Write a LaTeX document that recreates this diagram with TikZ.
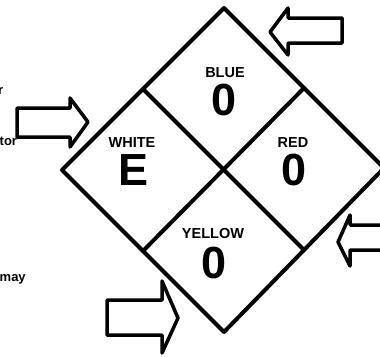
\documentclass[tikz,border=0pt]{standalone}
\usepackage{fontspec}
\setmainfont{Liberation Sans}
\begin{document}
\begin{tikzpicture}[x=1pt,y=-1pt,
  edge/.style={line width=4pt,line join=round,line cap=round},
  blockarrow/.style={draw,line width=3.5pt,line join=round,fill=white},
  small/.style={font=\fontsize{14.5}{14.5}\selectfont\bfseries,inner sep=0pt,anchor=base},
  big/.style={font=\fontsize{45}{45}\selectfont\bfseries,inner sep=0pt,anchor=base},
  side/.style={font=\fontsize{13}{13}\selectfont\bfseries,inner sep=0pt}]
\useasboundingbox (0,0) rectangle (380,356);
\clip (0,0) rectangle (380,356);
% diamond corners and edge midpoints
\coordinate (T) at (224,8);
\coordinate (L) at (62,170);
\coordinate (B) at (224,332);
\coordinate (R) at (384,168);
\path (T) -- (L) coordinate[pos=0.5] (mTL);
\path (T) -- (R) coordinate[pos=0.5] (mTR);
\path (B) -- (L) coordinate[pos=0.5] (mBL);
\path (B) -- (R) coordinate[pos=0.5] (mBR);
\draw[edge] (T) -- (R) -- (B) -- (L) -- cycle;
\draw[edge] (mTL) -- (mBR);
\draw[edge] (mTR) -- (mBL);
% labels
\node[small] (wl) at (132,147) {WHITE};
\node[big] (wv) at (134,185) {E};
\node[small] (bl) at (225,77) {BLUE};
\node[big] (bv) at (224,115) {0};
\node[small] (rl) at (293,147) {RED};
\node[big] (rv) at (294,185) {0};
\node[small] (yl) at (213,238) {YELLOW};
\node[big] (yv) at (214,278) {0};
% clipped side texts
\node[side,anchor=base east] (s1) at (3.5,94) {r};
\node[side,anchor=base west] (s2) at (-0.5,145) {tor};
\node[side,anchor=base west] (s3) at (-0.5,281) {may};
% block arrows
\draw[blockarrow] (270,32) -- (288,8) -- (288,18) -- (342,18) -- (342,43) -- (288,43) -- (288,55) -- cycle;
\draw[blockarrow] (17,108) -- (70,108) -- (70,98) -- (88,122) -- (70,147) -- (70,137) -- (17,137) -- cycle;
\draw[blockarrow] (107,300) -- (162,300) -- (162,281) -- (178,318) -- (162,353) -- (162,335) -- (107,335) -- cycle;
\draw[blockarrow] (338,242) -- (350,215) -- (350,225) -- (395,225) -- (395,250) -- (350,250) -- (350,266) -- cycle;
\end{tikzpicture}
\end{document}
